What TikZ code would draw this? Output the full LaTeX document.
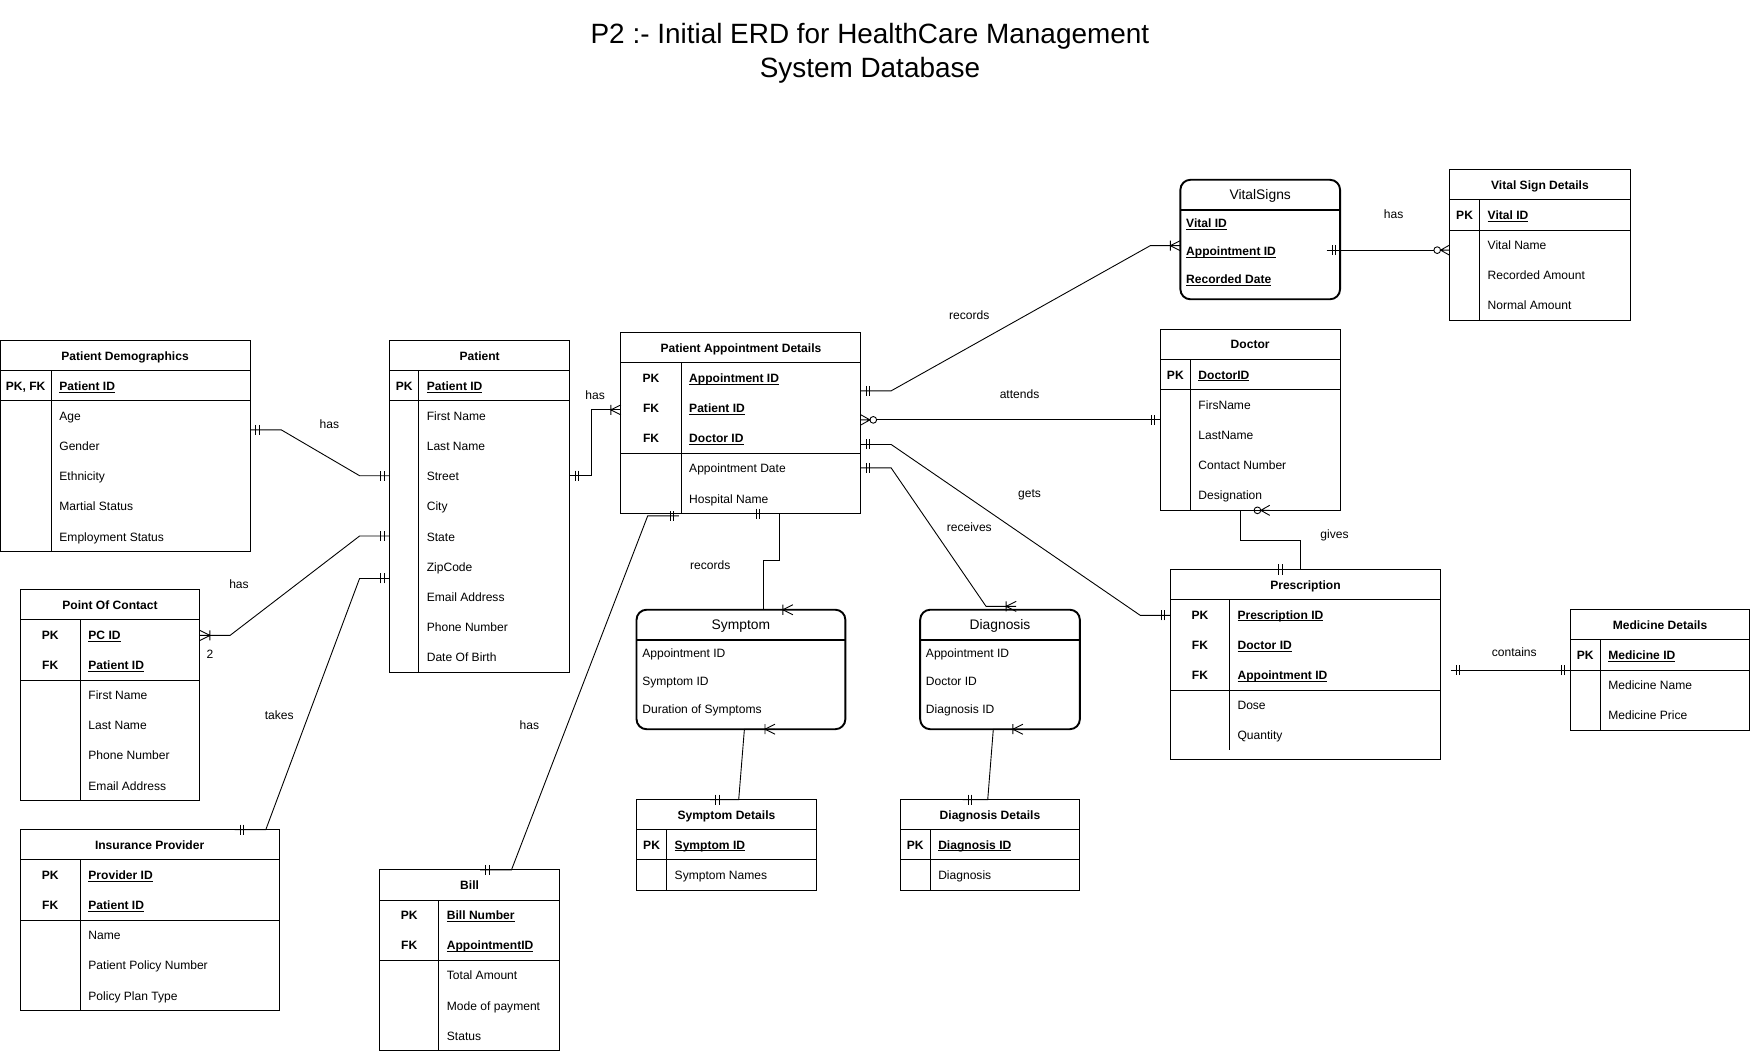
\documentclass[tikz,border=0pt]{standalone}
\usepackage{fontspec}
\setmainfont{Liberation Sans}
\usetikzlibrary{arrows.meta,calc}

\newcommand\erfont{\fontsize{10.8}{13}\selectfont}
\newsavebox\ulbox
\newcommand\keyul[1]{\sbox\ulbox{#1}\rlap{\rule[-1.8pt]{\wd\ulbox}{0.7pt}}\usebox\ulbox}
\newcommand\keyname[1]{\textbf{\keyul{#1}}}
\def\tabextra{0}

% crow's foot ends
\pgfdeclarearrow{
  name = erone,
  setup code = {
    \pgfarrowssettipend{0pt}
    \pgfarrowssetlineend{0pt}
    \pgfarrowssetbackend{-9pt}
    \pgfarrowshullpoint{0pt}{4.5pt}
    \pgfarrowshullpoint{0pt}{-4.5pt}
    \pgfarrowshullpoint{-9pt}{4.5pt}
    \pgfarrowshullpoint{-9pt}{-4.5pt}
  },
  drawing code = {
    \pgfpathmoveto{\pgfqpoint{-5pt}{-4.5pt}}
    \pgfpathlineto{\pgfqpoint{-5pt}{4.5pt}}
    \pgfpathmoveto{\pgfqpoint{-8pt}{-4.5pt}}
    \pgfpathlineto{\pgfqpoint{-8pt}{4.5pt}}
    \pgfusepathqstroke
  }
}
\pgfdeclarearrow{
  name = ermany,
  setup code = {
    \pgfarrowssettipend{0pt}
    \pgfarrowssetlineend{0pt}
    \pgfarrowssetbackend{-10pt}
    \pgfarrowshullpoint{0pt}{5pt}
    \pgfarrowshullpoint{0pt}{-5pt}
    \pgfarrowshullpoint{-10pt}{5pt}
    \pgfarrowshullpoint{-10pt}{-5pt}
  },
  drawing code = {
    \pgfpathmoveto{\pgfqpoint{0pt}{4.5pt}}
    \pgfpathlineto{\pgfqpoint{-9pt}{0pt}}
    \pgfpathlineto{\pgfqpoint{0pt}{-4.5pt}}
    \pgfpathmoveto{\pgfqpoint{-9pt}{-4.5pt}}
    \pgfpathlineto{\pgfqpoint{-9pt}{4.5pt}}
    \pgfusepathqstroke
  }
}
\pgfdeclarearrow{
  name = erzeromany,
  setup code = {
    \pgfarrowssettipend{0pt}
    \pgfarrowssetlineend{-14pt}
    \pgfarrowssetbackend{-14pt}
    \pgfarrowshullpoint{0pt}{5pt}
    \pgfarrowshullpoint{0pt}{-5pt}
    \pgfarrowshullpoint{-14pt}{5pt}
    \pgfarrowshullpoint{-14pt}{-5pt}
  },
  drawing code = {
    \pgfpathmoveto{\pgfqpoint{0pt}{4.5pt}}
    \pgfpathlineto{\pgfqpoint{-8pt}{0pt}}
    \pgfpathlineto{\pgfqpoint{0pt}{-4.5pt}}
    \pgfpathmoveto{\pgfqpoint{-8pt}{0pt}}
    \pgfpathlineto{\pgfqpoint{0pt}{0pt}}
    \pgfpathcircle{\pgfqpoint{-11pt}{0pt}}{3pt}
    \pgfusepathqstroke
  }
}

\tikzset{
  tblframe/.style={draw, rectangle, line width=0.9pt, inner sep=0pt, outer sep=0pt},
  tblline/.style={line width=0.9pt},
  tblhead/.style={font=\erfont\bfseries, inner sep=0pt, text height=9pt, text depth=1pt},
  keytag/.style={font=\erfont\bfseries, inner sep=0pt, text height=9pt, text depth=1pt},
  keyattr/.style={anchor=west, font=\erfont\bfseries, inner sep=0pt, text height=9pt, text depth=1pt},
  attrtext/.style={anchor=west, font=\erfont, inner sep=0pt, text height=9pt, text depth=1pt},
  roundframe/.style={draw, rectangle, line width=1.7pt, rounded corners=9pt, inner sep=0pt, outer sep=0pt},
  roundline/.style={line width=1.7pt},
  roundhead/.style={font=\fontsize{12.4}{15}\selectfont, inner sep=0pt, text height=10pt, text depth=2pt},
  relline/.style={line width=0.8pt},
  rellabel/.style={font=\erfont, inner sep=1pt}
}

% table with header, key rows and attribute rows
\newcommand\ertable[9]{%
  \pgfmathsetmacro\tabh{27*(1+#5+#6)+\tabextra}
  \node[tblframe, minimum width=#3, minimum height=\tabh, anchor=north west] (#1) at #2 {};
  \node[tblhead] (#1-title) at ([yshift=-13.5]#1.north) {#7};
  \draw[tblline] ([yshift=-27]#1.north west) -- ([yshift=-27]#1.north east);
  \draw[tblline] ([yshift={-27*(1+#5)}]#1.north west) -- ([yshift={-27*(1+#5)}]#1.north east);
  \draw[tblline] ([xshift=#4,yshift=-27]#1.north west) -- ([xshift=#4,yshift={-27*(1+#5+#6)}]#1.north west);
  \foreach \k/\t [count=\i] in {#8} {
    \node[keytag] (#1-k\i) at ([xshift=#4/2,yshift={-27*(\i+0.5)}]#1.north west) {\k};
    \node[keyattr] (#1-a\i) at ([xshift=#4+7,yshift={-27*(\i+0.5)}]#1.north west) {\keyul{\t}};
  }
  \foreach \t [count=\i] in {#9} {
    \node[attrtext] (#1-r\i) at ([xshift=#4+7,yshift={-27*(\i+#5+0.5)}]#1.north west) {\t};
  }
}

% rounded entity
\newcommand\erbox[5]{%
  \node[roundframe, minimum width=#3, minimum height=107, anchor=north west] (#1) at #2 {};
  \node[roundhead] (#1-title) at ([yshift=-14]#1.north) {#4};
  \draw[roundline] ([yshift=-27]#1.north west) -- ([yshift=-27]#1.north east);
  \foreach \t [count=\i] in {#5} {
    \node[attrtext] (#1-r\i) at ([xshift=5,yshift={-39-25*(\i-1)}]#1.north west) {\t};
  }
}

\begin{document}
\begin{tikzpicture}[x=1pt, y=-1pt]
  \useasboundingbox (0,0) rectangle (1568,941);

  \node[font=\fontsize{25}{30}\selectfont, align=center] (title) at (779,47.5)
    {P2 :- Initial ERD for HealthCare Management\\System Database};

  % entities
  \ertable{demo}{(0,305)}{224}{46}{1}{5}{Patient Demographics}{{PK, FK}/Patient ID}{Age, Gender, Ethnicity, Martial Status, Employment Status}
  \ertable{patient}{(349,305)}{161}{26}{1}{9}{Patient}{PK/Patient ID}{First Name, Last Name, Street, City, State, ZipCode, Email Address, Phone Number, Date Of Birth}
  \ertable{appt}{(556,298)}{215}{54}{3}{2}{Patient Appointment Details}{PK/Appointment ID, FK/Patient ID, FK/Doctor ID}{Appointment Date, Hospital Name}
  \ertable{vitaldet}{(1298,152)}{162}{27}{1}{3}{Vital Sign Details}{PK/Vital ID}{Vital Name, Recorded Amount, Normal Amount}
  \ertable{doctor}{(1039,295)}{161}{27}{1}{4}{Doctor}{PK/DoctorID}{FirsName, LastName, Contact Number, Designation}
  \def\tabextra{8}
  \ertable{presc}{(1048,510)}{242}{53}{3}{2}{Prescription}{PK/Prescription ID, FK/Doctor ID, FK/Appointment ID}{Dose, Quantity}
  \def\tabextra{0}
  \ertable{medicine}{(1406,546)}{161}{27}{1}{2}{Medicine Details}{PK/Medicine ID}{Medicine Name, Medicine Price}
  \ertable{contact}{(18,528)}{161}{54}{2}{4}{Point Of Contact}{PK/PC ID, FK/Patient ID}{First Name, Last Name, Phone Number, Email Address}
  \ertable{insurer}{(18,743)}{232}{54}{2}{3}{Insurance Provider}{PK/Provider ID, FK/Patient ID}{Name, Patient Policy Number, Policy Plan Type}
  \ertable{bill}{(340,779)}{161}{53}{2}{3}{Bill}{PK/Bill Number, FK/AppointmentID}{Total Amount, Mode of payment, Status}
  \ertable{symptdet}{(570,716)}{161}{27}{1}{1}{Symptom Details}{PK/Symptom ID}{Symptom Names}
  \ertable{diagdet}{(806,716)}{161}{27}{1}{1}{Diagnosis Details}{PK/Diagnosis ID}{Diagnosis}

  \erbox{vitals}{(1057,161)}{143}{VitalSigns}{\keyname{Vital ID}, \keyname{Appointment ID}, \keyname{Recorded Date}}
  \erbox{symptom}{(570,546)}{187}{Symptom}{Appointment ID, Symptom ID, Duration of Symptoms}
  \erbox{diagnosis}{(824,546)}{143}{Diagnosis}{Appointment ID, Doctor ID, Diagnosis ID}

  % relationships
  \draw[relline, {erone}-{erone}] ([yshift=-80]demo.north east) -- ++(28,0) -- ([xshift=-27,yshift=-121]patient.north west) -- ([yshift=-121]patient.north west);
  \draw[relline, {ermany}-{erone}] ([yshift=-41]contact.north east) -- ++(27,0) -- ([xshift=-27,yshift=-175]patient.north west) -- ([yshift=-175]patient.north west);
  \draw[relline, {erone}-{erone}] ([xshift=192]insurer.north west) -- ([xshift=220]insurer.north west) -- ([xshift=-27,yshift=-213]patient.north west) -- ([yshift=-213]patient.north west);
  \draw[relline, {erone}-{erone}] ([xshift=90]bill.north west) -- ([xshift=118]bill.north west) -- ([xshift=24,yshift=-2]appt.south west) -- ([xshift=52,yshift=-2]appt.south west);
  \draw[relline, {erone}-{ermany}] ([yshift=-121]patient.north east) -- ++(20,0) |- ([yshift=-69]appt.north west);
  \draw[relline, {erone}-{ermany}] ([yshift=-52]appt.north east) -- ++(27,0) -- ([xshift=-27,yshift=-59]vitals.north west) -- ([yshift=-59]vitals.north west);
  \draw[relline, {erone}-{erzeromany}] ([xshift=-12,yshift=-63]vitals.north east) -- ([yshift=-72]vitaldet.north west);
  \draw[relline, {erzeromany}-{erone}] ([yshift=-78]appt.north east) -- ([yshift=-81]doctor.north west);
  \draw[relline, {erone}-{erone}] ([yshift=-100]appt.north east) -- ++(27,0) -- ([xshift=-27,yshift=-41]presc.north west) -- ([yshift=-41]presc.north west);
  \draw[relline, {erone}-{ermany}] ([yshift=-121]appt.north east) -- ++(27,0) -- ([xshift=59,yshift=3]diagnosis.north west) -- ([xshift=86,yshift=3]diagnosis.north west);
  \draw[relline, {erone}-{ermany}] ([xshift=116]appt.south west) -- ([xshift=142]appt.south west) |- ([xshift=114,yshift=44]symptom.north west) -- ([xshift=114]symptom.north west) -- ([xshift=140]symptom.north west);
  \draw[relline, {erone}-{ermany}] ([xshift=66]symptdet.north west) -- ([xshift=91.5]symptdet.north west) -- ([xshift=96.6]symptom.south west) -- ([xshift=124]symptom.south west);
  \draw[relline, {erone}-{ermany}] ([xshift=56]diagdet.north west) -- ([xshift=78.5]diagdet.north west) -- ([xshift=65.5]diagnosis.south west) -- ([xshift=92]diagnosis.south west);
  \draw[relline, {erone}-{erzeromany}] ([xshift=92]presc.north west) -- ([xshift=116.5]presc.north west) |- ([xshift=72,yshift=-27]doctor.south west) -- ([xshift=72]doctor.south west) -- ([xshift=98]doctor.south west);
  \draw[relline, {erone}-{erone}] ([xshift=9,yshift=-90]presc.north east) -- ([yshift=-54]medicine.north west);

  % relationship labels
  \node[rellabel] (l-demo) at (295,380) {has};
  \node[rellabel] (l-contact) at (214,523) {has};
  \node[rellabel] (l-two) at (188,586) {2};
  \node[rellabel] (l-takes) at (250,640) {takes};
  \node[rellabel] (l-bill) at (474,649) {has};
  \node[rellabel] (l-appt) at (533,354) {has};
  \node[rellabel] (l-vitals) at (868,282) {records};
  \node[rellabel] (l-vitaldet) at (1248,192) {has};
  \node[rellabel] (l-attends) at (913,353) {attends};
  \node[rellabel] (l-gets) at (922,443) {gets};
  \node[rellabel] (l-receives) at (868,472) {receives};
  \node[rellabel] (l-symptom) at (636,506) {records};
  \node[rellabel] (l-gives) at (1195,479) {gives};
  \node[rellabel] (l-contains) at (1356,584) {contains};
\end{tikzpicture}
\end{document}
